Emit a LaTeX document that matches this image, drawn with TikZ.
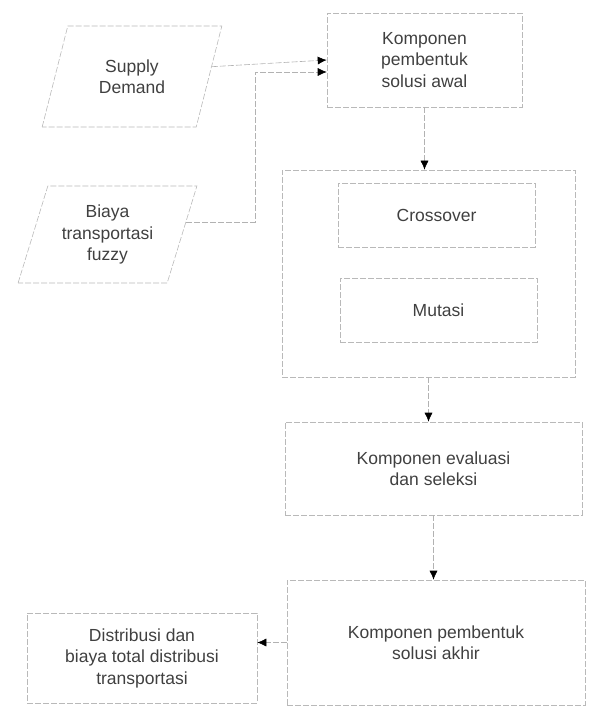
\documentclass[tikz,border=0pt]{standalone}
\usepackage{fontspec}
\setmainfont{Liberation Sans}
\usepackage{tikz}
\usetikzlibrary{arrows.meta, shapes.geometric}

\begin{document}
\begin{tikzpicture}[x=1pt, y=-1pt,
  every node/.style = {font=\fontsize{17.5}{21.5}\selectfont, text=black!75, align=center},
  box/.style = {draw=gray!55, line width=0.6pt, dash pattern=on 6pt off 2pt, rectangle, inner sep=0pt},
  para/.style = {box, trapezium, trapezium stretches=true, trapezium left angle=69, trapezium right angle=111},
  arr/.style = {draw=gray!60, line width=0.6pt, dash pattern=on 6pt off 2pt, -{Latex[length=9pt,width=8pt,color=black,fill=black]}}]
\useasboundingbox (0,0) rectangle (590,708);

% input
\node[para, minimum width=180, minimum height=101] (supply) at (132,76.5) {Supply\\Demand};
\node[para, minimum width=179, minimum height=97] (biaya) at (107.5,234.5) {Biaya\\transportasi\\fuzzy};

% proses
\node[box, minimum width=195, minimum height=94] (awal) at (424.5,60) {Komponen\\pembentuk\\solusi awal};
\node[box, minimum width=293, minimum height=207] (ga) at (428.5,273.5) {};
\node[box, minimum width=197, minimum height=64] (cross) at (436.5,215) {Crossover};
\node[box, minimum width=197, minimum height=64] (mutasi) at (438.5,310) {Mutasi};
\node[box, minimum width=297, minimum height=93] (eval) at (433.5,468.5) {Komponen evaluasi\\dan seleksi};
\node[box, minimum width=298, minimum height=125] (akhir) at (436,642.5) {Komponen pembentuk\\solusi akhir};

% output
\node[box, minimum width=230, minimum height=90] (dist) at (142,658) {Distribusi dan\\biaya total distribusi\\transportasi};

\draw[arr] (supply.7) -- (awal.west);
\draw[arr] (biaya.9) -- ++(69,0) |- ([yshift=-12pt]awal.west);
\draw[arr] (awal.south) -- (awal.south |- ga.north);
\draw[arr] (ga.south) -- (ga.south |- eval.north);
\draw[arr] (eval.south) -- (eval.south |- akhir.north);
\draw[arr] (akhir.west) -- (akhir.west -| dist.east);
\end{tikzpicture}
\end{document}
